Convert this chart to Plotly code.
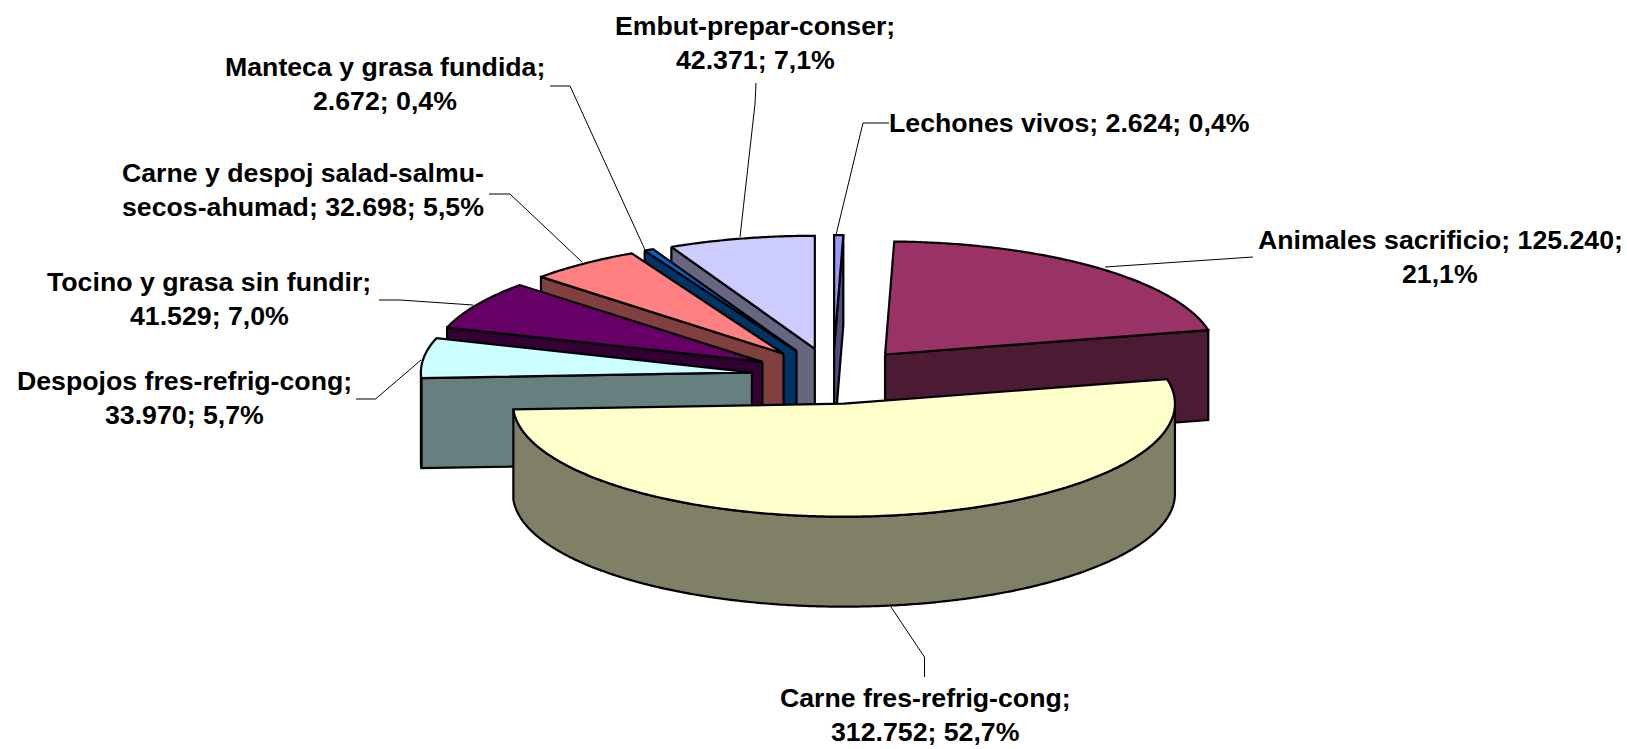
import math
import plotly.graph_objects as go

# ---- data ----
categories = ["Lechones vivos", "Animales sacrificio", "Carne fres-refrig-cong",
              "Despojos fres-refrig-cong", "Tocino y grasa sin fundir",
              "Carne y despoj salad-salmu-secos-ahumad", "Manteca y grasa fundida",
              "Embut-prepar-conser"]
values = [2624, 125240, 312752, 33970, 41529, 32698, 2672, 42371]
top_colors = ["#9999FF", "#993366", "#FFFFCC", "#CCFFFF", "#660066", "#FF8080", "#0066CC", "#CCCCFF"]
side_colors = ["#4D4D80", "#4D1A33", "#808066", "#668080", "#330033", "#804040", "#003366", "#666680"]
# back-to-front painting order of the slices
paint_order = [7, 6, 5, 4, 3, 0, 1, 2]
# text after which each label breaks to its second line ("" = single line)
break_after = ["", "125.240;", "cong;", "cong;", "fundir;", "salmu-", "fundida;", "conser;"]

# ---- layout of the projected pie (pixels of the 1627x749 page) ----
W, H = 1627, 749
CX, CY = 833, 376
RX, RY = 331, 113
DEPTH = 90
EXPLODE = 0.247
EDGE = 2.2
FONT = dict(family="Liberation Sans, Arial, sans-serif", size=26.7, color="black")
LINE_GAP = 34

# label centre x, first-line centre y
label_pos = [(1069, 123), (1440, 240), (925, 698), (184, 381),
             (209, 282), (303, 173), (385, 67), (755, 26)]
# leader polylines
leaders = [
    [(889, 123), (863, 123), (836, 235)],
    [(1253, 257), (1105, 267)],
    [(891, 607), (924.5, 657), (924.5, 677)],
    [(356, 399), (375.5, 399), (421, 360)],
    [(379, 300), (400, 300), (473, 305)],
    [(489, 194), (510, 194), (582, 262)],
    [(550, 86), (570, 86), (646, 252)],
    [(756, 83), (755, 104), (740, 237)],
]

total = sum(values)
fig = go.Figure()


def poly(pts, fill):
    xs = [p[0] for p in pts] + [pts[0][0]]
    ys = [p[1] for p in pts] + [pts[0][1]]
    fig.add_trace(go.Scatter(x=xs, y=ys, mode="lines", fill="toself", fillcolor=fill,
                             line=dict(color="black", width=EDGE, simplify=False),
                             hoverinfo="skip", showlegend=False))


def rim(cx, cy, th):
    return (cx + RX * math.sin(th), cy - RY * math.cos(th))


def arc(cx, cy, t0, t1, step=math.radians(0.5)):
    n = max(2, int((t1 - t0) / step) + 1)
    return [rim(cx, cy, t0 + (t1 - t0) * i / (n - 1)) for i in range(n)]


def down(pts):
    return [(x, y + DEPTH) for x, y in pts]


# angles from the values, clockwise from 12 o'clock
angles = []
acc = 0
for v in values:
    angles.append((acc / total * 2 * math.pi, (acc + v) / total * 2 * math.pi))
    acc += v

for i in paint_order:
    t0, t1 = angles[i]
    tm = (t0 + t1) / 2
    cx = CX + EXPLODE * RX * math.sin(tm)
    cy = CY - EXPLODE * RY * math.cos(tm)
    side, top = side_colors[i], top_colors[i]
    tip = (cx, cy)
    # radial walls facing the viewer
    if math.sin(t0) < -1e-9:
        edge = [tip, rim(cx, cy, t0)]
        poly(edge + down(edge)[::-1], side)
    if math.sin(t1) > 1e-9:
        edge = [tip, rim(cx, cy, t1)]
        poly(edge + down(edge)[::-1], side)
    # outer curved wall, front half only
    a0, a1 = max(t0, math.pi / 2), min(t1, 3 * math.pi / 2)
    if a1 > a0:
        rimpts = arc(cx, cy, a0, a1)
        poly(rimpts + down(rimpts)[::-1], side)
    # top face
    poly([tip] + arc(cx, cy, t0, t1), top)

# leader lines
for pts in leaders:
    fig.add_trace(go.Scatter(x=[p[0] for p in pts], y=[p[1] for p in pts], mode="lines",
                             line=dict(color="black", width=1), hoverinfo="skip",
                             showlegend=False))

# labels (one annotation per line: the reference's line gap is wider than Plotly's)
annotations = []
for name, v, brk, (lx, ly) in zip(categories, values, break_after, label_pos):
    vs = f"{v:,}".replace(",", ".")
    pct = f"{v / total * 100:.1f}".replace(".", ",")
    text = f"{name}; {vs}; {pct}%"
    if brk:
        k = text.index(brk) + len(brk)
        lines = [text[:k].strip(), text[k:].strip()]
    else:
        lines = [text]
    for j, line in enumerate(lines):
        annotations.append(dict(x=lx, y=ly + j * LINE_GAP, xref="x", yref="y", text=f"<b>{line}</b>",
                                showarrow=False, font=FONT, xanchor="center", yanchor="middle",
                                align="center"))

fig.update_layout(
    width=W, height=H, margin=dict(l=0, r=0, t=0, b=0),
    paper_bgcolor="white", plot_bgcolor="white", showlegend=False,
    xaxis=dict(range=[0, W], visible=False, fixedrange=True),
    yaxis=dict(range=[H, 0], visible=False, fixedrange=True),
    annotations=annotations,
)
fig.write_html("out.html", config=dict(displayModeBar=False),
               post_script="document.body.style.margin='0';document.body.style.overflow='hidden';")
